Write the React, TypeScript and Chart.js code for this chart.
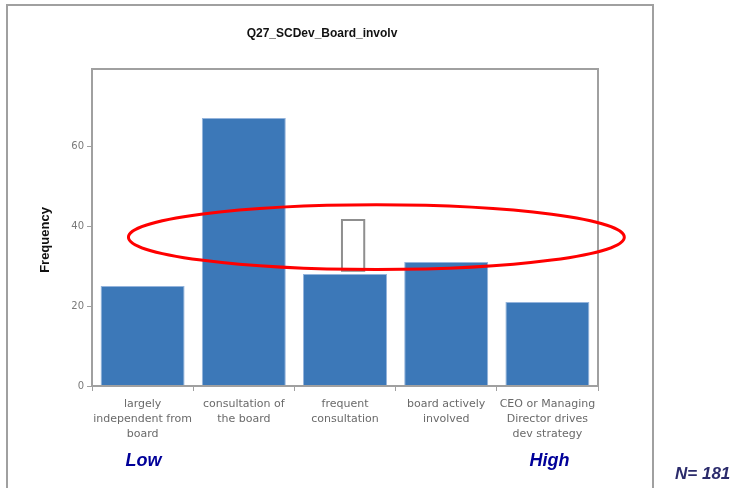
import React, { useEffect, useRef } from "react";
import { Chart, registerables } from "chart.js";

Chart.register(...registerables);

const categories: string[][] = [
  ["largely", "independent from", "board"],
  ["consultation of", "the board"],
  ["frequent", "consultation"],
  ["board actively", "involved"],
  ["CEO or Managing", "Director drives", "dev strategy"],
];
const frequencies: number[] = [25, 67, 28, 31, 21];
const yTicks: number[] = [0, 20, 40, 60];
const chartTitle = "Q27_SCDev_Board_involv";
const yTitle = "Frequency";
const lowLabel = "Low";
const highLabel = "High";
const sampleNote = "N= 181";

// Highlight drawn over the chart, in data units (category index, frequency)
const highlightEllipse = { cx: 2.31, cy: 37.2, rx: 2.45, ry: 8.1 };
const markerBox = { x0: 1.97, x1: 2.19, y0: 28.8, y1: 41.5 };

const FONT = "'Liberation Sans', Arial, sans-serif";
const LABEL_FONT = "'DejaVu Sans', Verdana, sans-serif";

const decorPlugin = {
  id: "decor",
  beforeDraw(chart: any) {
    const { ctx } = chart;
    ctx.save();
    ctx.fillStyle = "#ffffff";
    ctx.fillRect(0, 0, chart.width, chart.height);
    // outer frame
    ctx.strokeStyle = "#a0a0a0";
    ctx.lineWidth = 2;
    ctx.strokeRect(7, 5, 646, 520);
    // title
    ctx.fillStyle = "#111";
    ctx.font = `bold 12px ${FONT}`;
    ctx.textAlign = "center";
    ctx.textBaseline = "middle";
    ctx.fillText(chartTitle, 322, 34);
    ctx.restore();
  },
  afterDraw(chart: any) {
    const { ctx, chartArea, scales } = chart;
    const x = scales.x;
    const y = scales.y;
    ctx.save();
    // plot frame
    ctx.strokeStyle = "#a0a0a0";
    ctx.lineWidth = 2;
    ctx.strokeRect(chartArea.left, chartArea.top, chartArea.right - chartArea.left, chartArea.bottom - chartArea.top);

    // marker box
    const bx0 = x.getPixelForValue(markerBox.x0);
    const bx1 = x.getPixelForValue(markerBox.x1);
    const by0 = y.getPixelForValue(markerBox.y0);
    const by1 = y.getPixelForValue(markerBox.y1);
    ctx.strokeStyle = "#8f8f8f";
    ctx.lineWidth = 2;
    ctx.strokeRect(bx0, by1, bx1 - bx0, by0 - by1);

    // red ellipse
    const cx = x.getPixelForValue(highlightEllipse.cx);
    const cy = y.getPixelForValue(highlightEllipse.cy);
    const step = x.getPixelForValue(1) - x.getPixelForValue(0);
    const rx = highlightEllipse.rx * step;
    const ry = Math.abs(y.getPixelForValue(highlightEllipse.ry) - y.getPixelForValue(0));
    ctx.strokeStyle = "#ff0000";
    ctx.lineWidth = 3;
    ctx.beginPath();
    ctx.ellipse(cx, cy, rx, ry, 0, 0, Math.PI * 2);
    ctx.stroke();

    // y axis title
    ctx.fillStyle = "#111";
    ctx.font = `bold 13px ${FONT}`;
    ctx.textAlign = "center";
    ctx.textBaseline = "middle";
    ctx.translate(45, 240);
    ctx.rotate(-Math.PI / 2);
    ctx.fillText(yTitle, 0, 0);
    ctx.setTransform(1, 0, 0, 1, 0, 0);

    // Low / High
    ctx.fillStyle = "#000099";
    ctx.font = `italic bold 18px ${FONT}`;
    ctx.fillText(lowLabel, x.getPixelForValue(0) + 1, 461);
    ctx.fillText(highLabel, x.getPixelForValue(4) + 2, 461);

    // sample size
    ctx.fillStyle = "#2b2b6b";
    ctx.font = `italic bold 17px ${FONT}`;
    ctx.textAlign = "left";
    ctx.fillText(sampleNote, 675, 474);
    ctx.restore();
  },
};

export default function App() {
  const ref = useRef<HTMLCanvasElement>(null);
  useEffect(() => {
    document.body.style.margin = "0";
    const chart = new Chart(ref.current!, {
      type: "bar",
      data: {
        labels: categories,
        datasets: [
          {
            data: frequencies,
            backgroundColor: "#3c78b8",
            borderColor: "#94b4dc",
            borderWidth: 1,
            barPercentage: 0.83,
            categoryPercentage: 1,
          },
        ],
      },
      options: {
        animation: false,
        responsive: false,
        devicePixelRatio: 1,
        layout: { padding: { top: 69, right: 138, left: 0, bottom: 0 } },
        plugins: { legend: { display: false }, tooltip: { enabled: false }, title: { display: false } },
        scales: {
          x: {
            grid: { display: true, drawOnChartArea: false, offset: true, tickLength: 5, color: "#a0a0a0", lineWidth: 1 },
            border: { display: true, color: "#a0a0a0", width: 2 },
            ticks: {
              color: "#6a6a6a",
              font: { family: LABEL_FONT, size: 11, lineHeight: 1.36 },
              maxRotation: 0,
              autoSkip: false,
              padding: 6,
            },
            afterFit: (s: any) => {
              s.height = 102;
            },
          },
          y: {
            min: 0,
            max: 79.25,
            afterBuildTicks: (s: any) => {
              s.ticks = yTicks.map((v) => ({ value: v }));
            },
            grid: { display: true, drawOnChartArea: false, tickLength: 5, color: "#a0a0a0" },
            border: { display: true, color: "#a0a0a0", width: 2 },
            ticks: { color: "#7a7a7a", font: { family: LABEL_FONT, size: 10 }, padding: 3 },
            afterFit: (s: any) => {
              s.width = 92;
            },
          },
        },
      },
      plugins: [decorPlugin],
    });
    return () => chart.destroy();
  }, []);
  return (
    <div style={{ position: "fixed", left: 0, top: 0, width: 736, height: 488 }}>
      <canvas ref={ref} width={736} height={488} style={{ width: 736, height: 488 }} />
    </div>
  );
}
